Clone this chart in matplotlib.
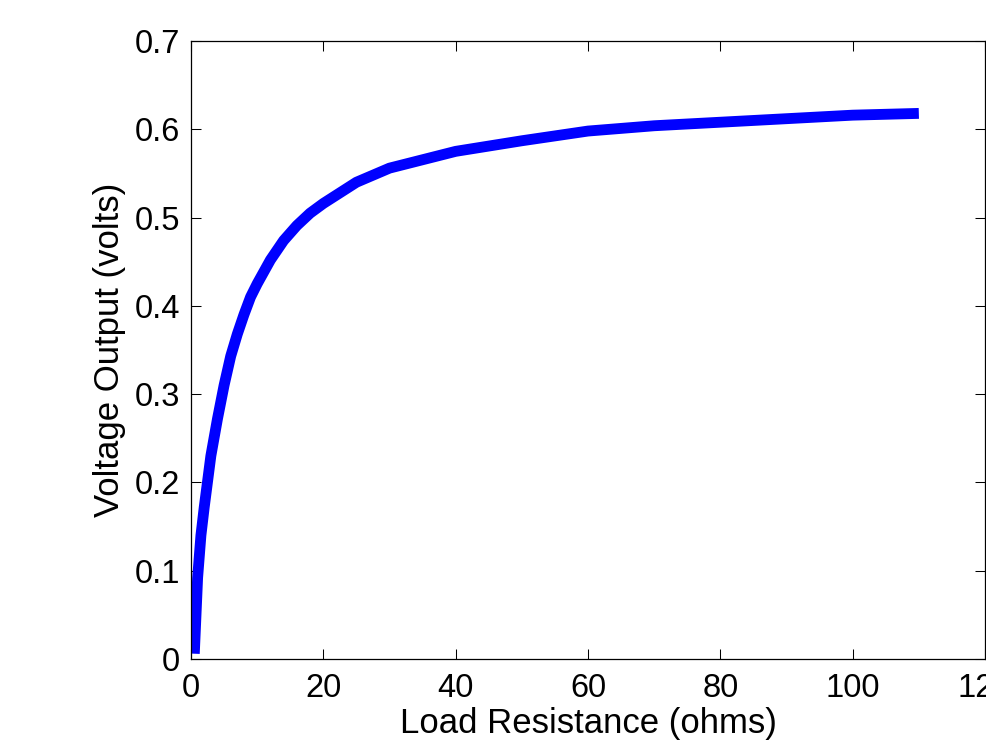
import matplotlib
matplotlib.use("Agg")
import matplotlib.pyplot as plt

resistance = [0.5, 1, 1.5, 2, 3, 4, 5, 6, 7, 8, 9, 10, 12, 14, 16, 18, 20, 25, 30,
              40, 50, 60, 70, 80, 90, 100, 110]
voltage = [0.006, 0.092, 0.140, 0.172, 0.230, 0.272, 0.310, 0.343, 0.368, 0.390, 0.410,
           0.425, 0.452, 0.474, 0.491, 0.505, 0.516, 0.540, 0.556, 0.575, 0.587,
           0.598, 0.604, 0.608, 0.612, 0.616, 0.618]
xticks = [0, 20, 40, 60, 80, 100, 120]
yticks = [0, 0.1, 0.2, 0.3, 0.4, 0.5, 0.6, 0.7]
ytick_labels = ["0", "0.1", "0.2", "0.3", "0.4", "0.5", "0.6", "0.7"]

plt.rcParams['font.family'] = ['Liberation Sans', 'DejaVu Sans']

fig = plt.figure(figsize=(9.86, 7.54), dpi=100)
ax = fig.add_axes([191/986, 95/754, (985-191)/986, (659-41)/754])

ax.plot(resistance, voltage, color=(0, 0, 1), linewidth=7.8, solid_capstyle='butt')

ax.set_xlim(0, 120)
ax.set_ylim(0, 0.7)
ax.set_xticks(xticks)
ax.set_xticklabels([str(t) for t in xticks])
ax.set_yticks(yticks)
ax.set_yticklabels(ytick_labels)
ax.tick_params(direction='in', length=7, width=0.75, top=True, right=True,
               labelsize=23.5, colors='black')
ax.tick_params(axis='x', pad=10)
ax.tick_params(axis='y', pad=8)
for s in ax.spines.values():
    s.set_linewidth(0.9)
    s.set_color('black')

ax.set_xlabel("Load Resistance (ohms)", fontsize=25, labelpad=2)
ax.set_ylabel("Voltage Output (volts)", fontsize=25, labelpad=6)

fig.savefig("out.png", dpi=100)
